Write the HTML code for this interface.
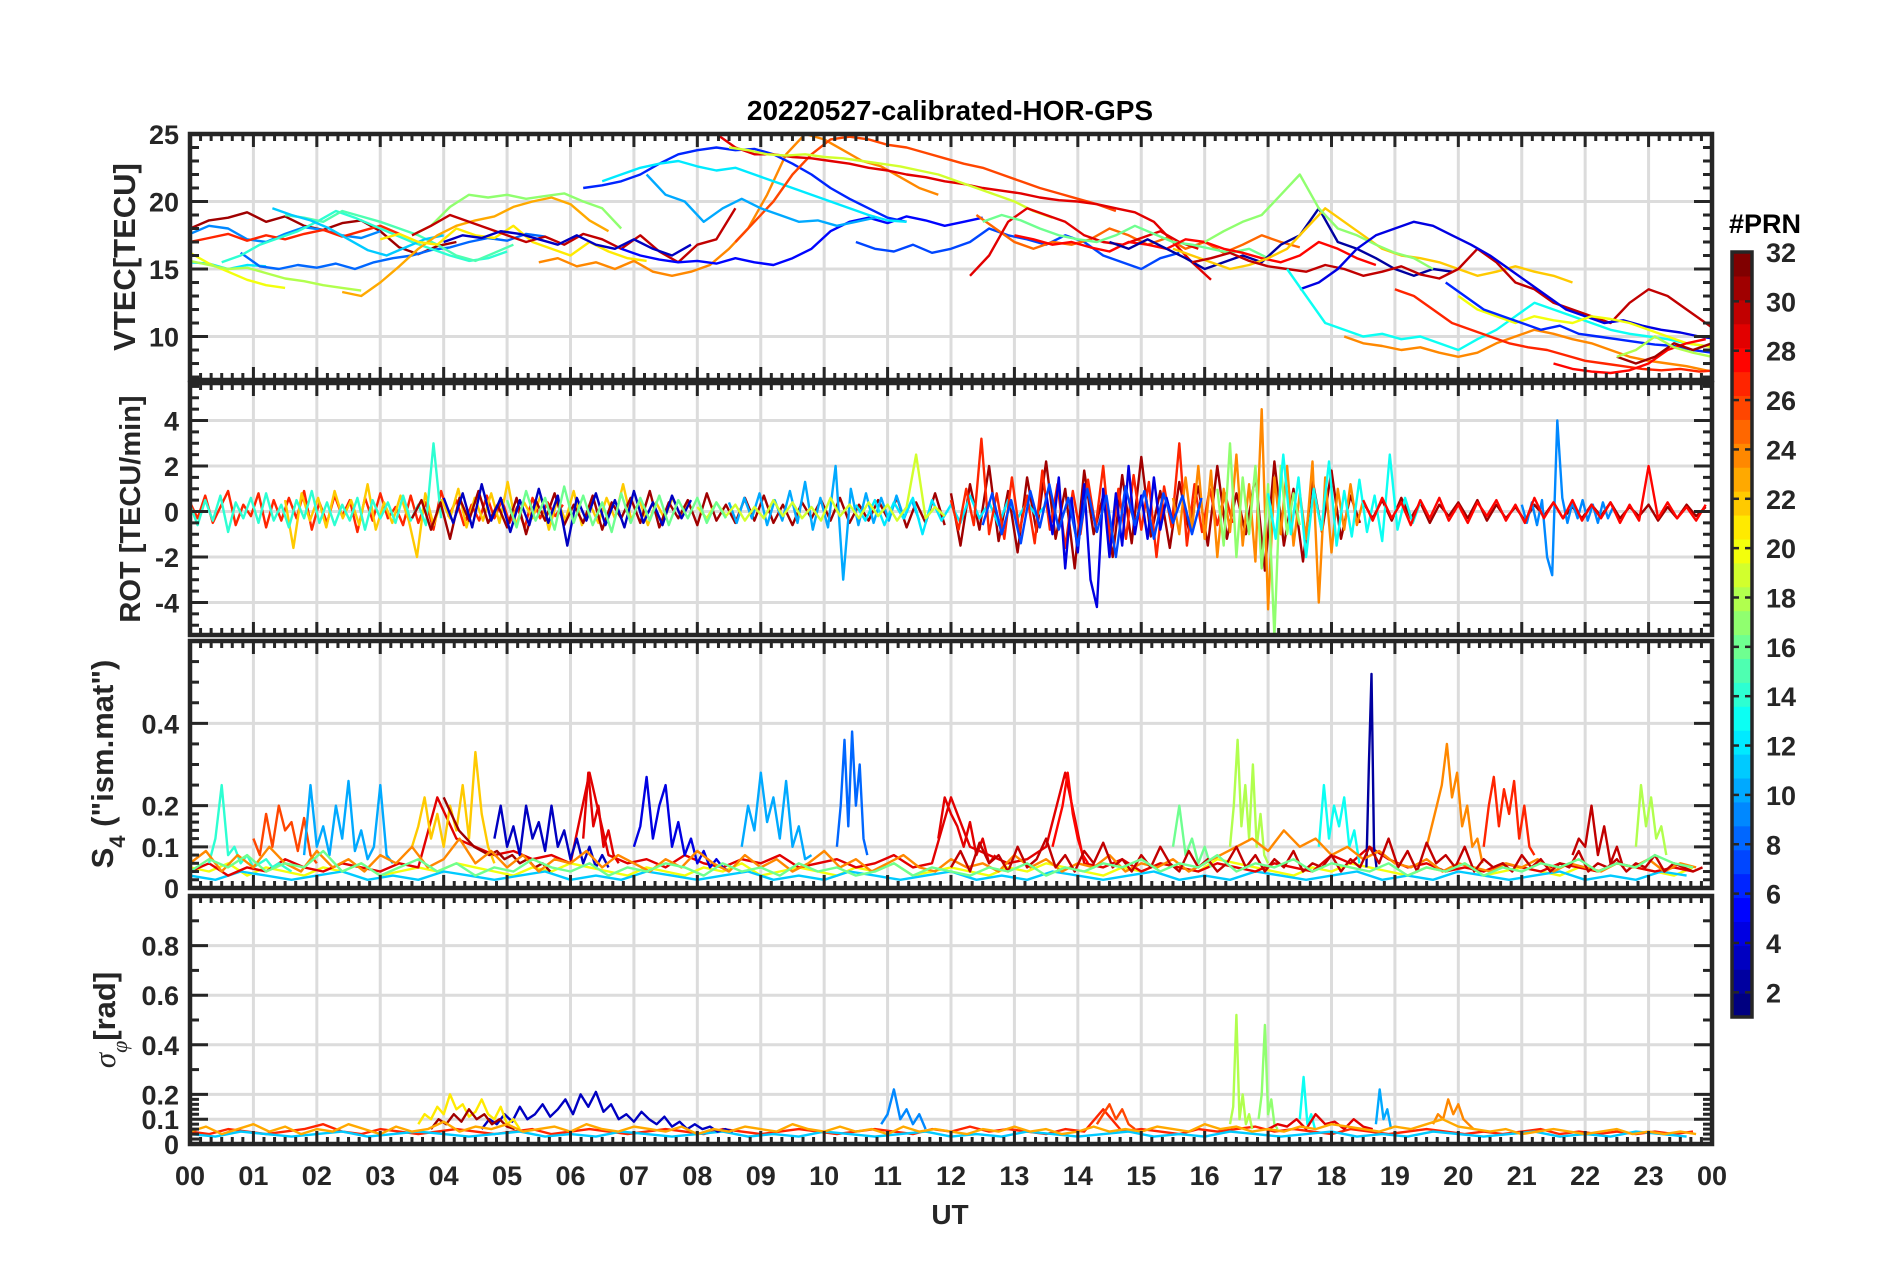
<!DOCTYPE html>
<html><head><meta charset="utf-8"><title>20220527-calibrated-HOR-GPS</title>
<style>
html,body{margin:0;padding:0;background:#fff;}
svg{display:block;font-family:"Liberation Sans",Arial,sans-serif;font-weight:bold;}
</style></head>
<body>
<svg id="fig" width="1902" height="1272" viewBox="0 0 1902 1272" xmlns="http://www.w3.org/2000/svg">
<text x="950" y="120" text-anchor="middle" font-size="28" fill="#000">20220527-calibrated-HOR-GPS</text>
<text x="950" y="1224" text-anchor="middle" font-size="28" fill="#262626">UT</text>
<text transform="translate(135,257) rotate(-90)" text-anchor="middle" font-size="31" fill="#262626">VTEC[TECU]</text>
<text transform="translate(140,509) rotate(-90)" text-anchor="middle" font-size="29" fill="#262626">ROT [TECU/min]</text>
<text transform="translate(113,764) rotate(-90)" text-anchor="middle" font-size="31" fill="#262626">S<tspan font-size="22" dy="12">4</tspan><tspan dy="-12"> ("ism.mat")</tspan></text>
<text transform="translate(115,1020) rotate(-90)" text-anchor="middle" font-size="31" fill="#262626"><tspan font-family="Liberation Serif,serif" font-style="italic" font-weight="normal">σ</tspan><tspan font-family="Liberation Serif,serif" font-style="italic" font-weight="normal" font-size="22" dy="12">φ</tspan><tspan dy="-12">[rad]</tspan></text>
<text x="1765" y="233" text-anchor="middle" font-size="27" fill="#000">#PRN</text>
<g id="layer"></g>
</svg>
<script>
// ---------- DATA ----------
const hourTicks = ["00","01","02","03","04","05","06","07","08","09","10","11","12","13","14","15","16","17","18","19","20","21","22","23","00"];
const cbTicks = [2,4,6,8,10,12,14,16,18,20,22,24,26,28,30,32];

const vtecPrn = [31,9,27,12,20,18,8,14,15,11,23,17,21,30,3,24,5,6,12,26,29,10,19,7,25,29,16,28,2,22,17,30,4,13,24,27,20,6,28,31,18];
const vtecT0 = [0,0,0,0,0,0,0.8,0.5,1.5,1.3,2.4,3.5,3.0,3.5,4.0,5.5,6.8,6.2,6.5,8.6,8.3,7.2,8.5,10.5,12.4,12.3,12.5,13,14.5,15.5,16,15.8,17.5,17.3,18.2,19,20,19.8,21.5,22.5,22.5];
const vtecVals = [
[18,18.6,18.8,19.2,18.5,18.9,18.2,17.9,18.4,18.6,17.8,16.6,16.1,16.7,17.0],
[17.6,18.2,18.0,17.2,17.0,17.6,18.1,17.9,17.5,17.3,17.8],
[17.0,17.3,17.6,17.1,17.5,17.2,17.6,17.9,17.4,17.8,18.2,17.6],
[15.5,15.4,15.0,15.3,15.2],
[16.2,15.4,14.8,14.2,13.8,13.6],
[15.6,15.3,15.0,15.1,14.7,14.3,14.1,13.8,13.6,13.4],
[16.2,15.2,15.0,15.3,15.1,15.4,15.0,15.5,15.8,16.0,16.4,16.6,17.0,17.3,17.1,17.6,17.4],
[15.5,16.0,16.8,17.3,17.8,18.5,19.3,18.8,18.2,17.6,17.0,16.5,16.0,15.6,15.8,16.3],
[19.0,18.8,18.5,19.3,18.9,18.5,18.0,17.5,16.8,16.0,15.6,16.2,16.8],
[19.5,19.0,18.6,18.0,17.2,16.4,16.0,16.6,17.2,17.5],
[13.3,13.0,14.0,15.2,16.5,17.5,18.2,18.6,18.9,19.6,20.0,20.3,19.8,18.6,17.8],
[17.5,18.2,19.6,20.5,20.3,20.5,20.2,20.4,20.6,20.0,19.5,18.0],
[17.2,17.6,17.0,16.8,18.0,17.5,17.3,18.2,17.0,16.5,16.0,17.0,16.3,15.8,15.6],
[17.5,18.2,19.0,18.5,18.0,17.5,17.0,17.4,16.8,17.6,17.2,16.5,17.5,16.3,15.5,16.8,17.2,19.5],
[17.0,17.5,17.3,17.8,17.6,17.2,16.8,17.5,16.8,16.5,17.2,16.5,16.0,16.8],
[15.5,15.8,15.2,15.5,15.0,15.6,14.8,14.5,14.8,15.3,16.5,18.0,20.5,23.5,25.0,24.6,23.8,23.0,22.6,21.8,21.0,20.5],
[16.5,16.0,15.7,15.5,15.6,15.4,15.8,15.5,15.3,15.8,16.5,17.8,18.5,18.8,18.4,18.9,18.6,18.2,18.5,18.8],
[21.0,21.2,21.5,22.0,22.8,23.5,23.8,24.0,23.8,23.9,23.5,22.8,22.0,21.0,20.2,19.5,18.8,18.5],
[21.5,22.0,22.5,22.8,23.0,22.6,22.3,22.5,22.0,21.5,21.0,20.5,20.0,19.5,19.0,18.6,18.5],
[17.0,18.5,20.0,22.0,23.5,24.6,24.8,24.6,24.2,24.0,23.6,23.2,22.8,22.5,22.0,21.5,21.0,20.6,20.2,19.8,19.3],
[25.0,24.0,23.5,23.5,23.3,23.2,23.0,22.8,22.5,22.3,22.0,21.8,21.5,21.3,21.0,20.8,20.6,20.3,20.1,20.0,19.8,19.5,19.2,18.5,17.0,15.5,14.2],
[22.0,20.5,20.0,18.5,19.5,20.2,19.5,19.0,18.5,18.6,18.2,18.5,18.8],
[24.0,23.8,23.5,23.4,23.5,23.3,23.2,23.0,22.8,22.6,22.3,22.0,21.5,21.0,20.5,20.0,19.3,18.8],
[17.0,16.5,16.3,16.8,16.2,16.5,17.0,18.0,17.5,17.2,16.8,17.5,17.0,16.0,15.5,15.0,15.8,16.2],
[19.0,18.0,17.0,16.5,17.0,16.8,17.2,18.0,17.5,16.8,17.3,16.5,17.0,16.2,16.8,17.5,17.0,16.6],
[14.5,16.0,18.5,19.5,19.0,18.5,17.5,17.0,16.8,17.3,17.8,17.0,16.5],
[18.5,19.0,18.6,18.0,17.5,17.2,17.0,17.5,18.2,17.6,17.0,16.8,16.5,16.2,16.5,15.8],
[17.5,17.2,16.8,17.0,16.6,16.3,17.0,16.8,16.5,17.2,17.0,16.5,16.2,15.8,15.5,16.0,17.0,16.5,15.8,15.3],
[17.0,16.5,17.2,16.5,15.8,15.0,15.5,16.0,15.5,16.8,17.5,19.5,17.0,16.5,15.8,15.0,14.5,15.0,14.8],
[16.5,16.0,15.5,15.0,15.3,15.8,16.5,18.0,19.5,18.5,17.5,16.5,16.0,15.8,15.5,15.0,14.5,14.8,15.2,14.8,14.5,14.0],
[17.0,17.8,18.5,19.0,20.5,22.0,19.5,18.0,17.5,16.8,16.2,15.8,15.0],
[15.5,15.8,16.2,15.6,15.2,15.0,14.8,15.3,15.0,14.5,14.8,15.2,14.6,14.3,15.0,16.5,15.5,14.0,13.5,12.5,12.0,11.5,11.0,12.5,13.5,13.0,12.0,11.0,10.0,9.5,9.0],
[13.5,14.0,15.0,16.5,17.5,18.0,18.5,18.2,17.5,16.8,16.0,15.0,14.0,13.0,12.0,11.5,11.0,11.2,10.8,10.5,10.3,10.0,9.8,9.6,9.5,9.7,9.3,9.8],
[15.0,13.0,11.0,10.5,10.0,10.2,9.8,10.0,9.5,9.0,9.8,10.5,11.5,12.5,12.0,11.5,11.0,10.5,10.2,10.0,9.8,9.5,9.3,9.0,8.8,8.5,8.3,8.0,7.8,8.5,8.2,7.6],
[10.0,9.5,9.3,9.0,9.2,8.8,8.5,8.8,9.5,10.0,10.5,10.2,9.8,9.5,9.0,8.5,8.2,8.0,7.8,7.5,7.3],
[13.5,13.0,12.0,11.0,10.5,10.0,9.5,9.2,9.0,8.6,8.2,8.0,7.8,7.6,7.5,7.6,7.4,7.5,7.8,8.0,8.3],
[13.0,12.0,11.5,11.0,11.5,11.2,11.0,11.5,11.3,11.0,10.5,10.0,9.5,9.3,9.0,8.8,9.5,10.5,10.0,9.5],
[14.0,13.0,12.0,11.5,11.0,10.5,10.8,10.2,10.0,9.8,9.6,9.4,9.3,9.0,8.8],
[8.0,7.6,7.4,7.3,7.5,8.0,9.0,9.5,9.8],
[8.5,8.0,8.5,9.5,9.0,9.5],
[8.5,9.0,10.0,9.2,8.8,8.5]
];
const vtecDt = 0.3;

const rotPrn = [27,22,14,31,31,31,3,10,12,27,4,24,17,13,9,28,19,16,7];
const rotT0 = [0,1.5,0,3.5,12,18.5,4,8.5,10.5,12,13.5,15.5,16.2,17,21,18.5,8,5,12.5];
const rotDt = [0.12,0.13,0.12,0.15,0.15,0.15,0.15,0.12,0.15,0.12,0.1,0.1,0.1,0.12,0.08,0.15,0.15,0.15,0.15];
const rotVals = [
[0.4,-0.3,0.7,-0.5,0.2,0.9,-0.6,0.3,-0.2,0.8,-0.7,0.5,-0.4,0.6,-0.3,0.9,-0.8,0.4,-0.5,0.7,-0.2,0.5,-0.9,0.6,-0.4,0.8,-0.3,0.2,-0.6,0.7,-0.5,0.4,-0.8,0.9,-0.2,0.5,-0.6,0.3,-0.4,0.7,-0.3,0.5,-0.5,0.2,-0.7,0.6,-0.3,0.4,-0.2,0.3],
[0.5,-1.6,0.8,-0.4,0.6,-0.7,0.9,-0.3,0.5,-0.6,1.2,-0.8,0.4,-0.5,0.7,-0.4,-2.0,0.8,-0.6,0.5,-0.3,1.0,-0.7,0.6,-0.4,0.8,-0.5,1.3,-0.6,0.4,-0.3,0.7,-0.8,0.5,-0.4,0.9,-0.6,0.3,-0.5,0.6,-0.3,1.2,-0.4,0.5,-0.6,0.4,-0.3,0.6,-0.2,0.4],
[0.3,-0.6,0.5,-0.4,0.7,-0.9,0.4,-0.3,0.6,-0.5,0.8,-0.4,0.3,-0.7,0.5,-0.3,0.9,-0.5,0.4,-0.6,0.3,-0.4,0.6,-0.8,0.5,-0.3,0.4,-0.5,0.7,-0.4,0.3,-0.6,3.0,-0.3],
[-0.3,0.5,-0.8,0.4,-1.2,0.6,-0.4,0.9,-0.5,0.3,-0.7,0.6,-1.0,0.5,-0.4,0.8,-0.6,0.3,-0.5,0.7,-0.8,0.4,-0.3,0.6,-0.5,0.9,-0.7,0.4,-0.3,0.5,-0.6,0.8,-0.4,0.3,-0.5,0.6,-0.4,0.7,-0.5,0.3,-0.6,0.4,-0.3,0.5,-0.4,0.6,-0.5,0.3,-0.4,0.5,-0.3,0.6,-0.7,0.4,-0.5,0.8,-0.6],
[0.8,-1.5,1.2,-0.8,2.0,-1.3,0.9,-1.8,1.5,-0.9,2.2,-1.2,1.0,-2.5,1.8,-1.0,0.7,-2.0,1.6,-1.4,2.4,-1.1,0.9,-1.6,1.3,-0.8,1.1,-1.5,2.0,-1.2,0.8,-1.0,1.6,-2.6,2.2,-1.5,1.0,-2.2,1.4,-0.9,1.8,-1.2,0.7,-0.5],
[0.4,-0.3,0.5,-0.4,0.6,-0.3,0.4,-0.5,0.3,-0.2,0.4,-0.3,0.5,-0.4,0.3,-0.3,0.2,-0.4,0.3,-0.2,0.4,-0.3,0.2,-0.3,0.3,-0.2,0.4,-0.3,0.2,-0.2,0.3,-0.4,0.2,-0.3,0.3,-0.2,0.2],
[0.6,-0.5,0.8,-0.7,1.2,-0.4,0.6,-0.9,0.5,-0.6,1.0,-0.5,0.7,-1.5,0.6,-0.4,0.8,-0.6,0.5,-0.7,0.9,-0.5,0.4,-0.6,0.7,-0.3,0.5],
[0.4,-0.5,0.6,-0.3,0.8,-0.6,0.5,-0.4,0.9,-0.5,1.3,-0.8,0.6,-0.7,2.0,-3.0,1.0,-0.6,0.8,-0.5,0.6,-0.4,0.7,-0.3,0.5,-0.4],
[0.3,-0.4,0.5,-0.6,0.4,-0.3,0.6,-1.0,0.5,-0.4,0.3,-0.5,0.7,-0.3,0.4,-0.6,0.5,-0.3,0.4,-0.2,0.3],
[0.5,-0.8,1.0,-0.6,3.2,-1.0,0.8,-1.2,1.5,-0.9,0.7,-1.4,1.8,-0.8,1.2,-1.6,0.9,-1.0,1.4,-0.7,2.0,-1.5,1.0,-1.2,1.6,-0.8,1.3,-2.0,1.1,-0.7,3.0,-1.5,1.2,-0.9,1.0,-0.6,0.8,-0.5],
[0.8,-1.0,1.5,-2.5,0.6,-1.8,1.2,-3.0,-4.2,1.0,-2.0,0.8,-1.5,2.0,-1.0,0.7,-1.2,1.5,-0.8,0.6,-0.5],
[0.6,-1.0,1.5,-0.8,2.0,-1.2,1.8,-2.0,1.0,-0.9,2.5,-1.5,1.2,-2.2,4.5,-4.3,1.5,-1.0,2.0,-1.5,0.8,-1.2,2.2,-4.0,1.5,-1.8,1.0,-0.8,1.2,-0.6,0.5],
[1.0,-1.5,3.0,-2.0,1.5,-1.0,2.0,-2.5,1.2,-5.5,2.0,-1.0,0.8,-0.6],
[0.8,-1.2,2.5,-1.0,1.5,-2.0,1.0,-0.8,2.2,-1.5,0.9,-1.1,1.4,-0.9,0.7,-1.3,2.5,-0.8,0.6,-0.5,0.4],
[0.3,-0.5,0.4,-0.6,0.5,-2.0,-2.8,4.0,0.6,-0.5,0.4,-0.3,0.5,-0.4,0.3,-0.5,0.4,-0.3,0.2],
[0.5,-0.4,0.6,-0.3,0.4,-0.6,0.5,-0.3,0.6,-0.4,0.3,-0.5,0.4,-0.2,0.5,-0.4,0.3,-0.5,0.6,-0.3,0.4,-0.3,0.5,-0.4,0.3,-0.3,0.4,-0.5,0.3,-0.4,2.0,-0.3,0.4,-0.3,0.2,-0.4,0.3],
[0.2,-0.3,0.4,-0.2,0.3,-0.4,0.2,-0.3,0.5,-0.2,0.4,-0.3,0.2,-0.4,0.6,-0.2,0.3,-0.3,0.4,-0.2,0.3,-0.4,0.2,2.5,-0.3,0.2,-0.2],
[0.5,-0.7,0.9,-0.4,0.6,-0.8,1.1,-0.5,0.7,-0.6,0.4,-0.9,0.8,-0.5,0.6,-0.4,0.7,-0.6,0.5,-0.3,0.6,-0.5,0.4,-0.3],
[-0.6,0.8,-1.0,0.5,-1.4,0.9,-0.7,1.2,-0.8,0.6,-1.5,1.0,-0.9,0.7,-2.0,1.1,-0.6,0.9,-1.2,0.8,-0.5,0.7,-1.0,0.6]
];

const s4Prn = [20,11,29,14,26,10,22,31,3,29,4,10,8,29,28,16,18,13,2,24,27,18,30,24,30,16];
const s4T0 = [0,0,0,0.3,1.0,1.8,3.5,4.0,4.8,6.2,7.0,8.7,10.2,11.8,13.6,15.5,16.4,17.8,18.55,19.5,20.4,22.8,21.8,0,12,0];
const s4Dt = [0.3,0.4,0.3,0.1,0.1,0.1,0.1,0.12,0.1,0.08,0.1,0.1,0.06,0.1,0.08,0.1,0.06,0.08,0.04,0.08,0.08,0.08,0.1,0.25,0.15,0.3];
const s4Vals = [
[0.05,0.04,0.06,0.03,0.05,0.04,0.03,0.05,0.04,0.06,0.03,0.04,0.05,0.04,0.06,0.05,0.04,0.03,0.05,0.04,0.06,0.05,0.04,0.03,0.05,0.04,0.03,0.05,0.04,0.06,0.03,0.04,0.05,0.04,0.03,0.05,0.04,0.06,0.03,0.04,0.05,0.04,0.03,0.05,0.04,0.06,0.05,0.04,0.03,0.05,0.04,0.06,0.05,0.04,0.07,0.06,0.05,0.04,0.03,0.05,0.04,0.06,0.05,0.04,0.03,0.05,0.04,0.06,0.03,0.04,0.05,0.04,0.03,0.05,0.04,0.06,0.05,0.04,0.03,0.05],
[0.03,0.02,0.04,0.03,0.02,0.03,0.04,0.02,0.03,0.02,0.04,0.03,0.02,0.03,0.04,0.02,0.03,0.02,0.04,0.03,0.02,0.03,0.04,0.02,0.03,0.02,0.04,0.03,0.02,0.03,0.04,0.02,0.03,0.02,0.04,0.03,0.02,0.03,0.04,0.02,0.03,0.02,0.04,0.03,0.02,0.03,0.04,0.02,0.03,0.02,0.04,0.03,0.02,0.03,0.04,0.02,0.03,0.02,0.04,0.03],
[0.04,0.06,0.03,0.05,0.04,0.07,0.05,0.04,0.06,0.05,0.04,0.06,0.05,0.22,0.12,0.1,0.08,0.09,0.07,0.08,0.06,0.28,0.08,0.06,0.07,0.05,0.08,0.06,0.05,0.07,0.06,0.08,0.05,0.06,0.07,0.05,0.06,0.08,0.05,0.06,0.22,0.1,0.08,0.06,0.07,0.1,0.28,0.06,0.05,0.07,0.04,0.06,0.05,0.04,0.06,0.05,0.04,0.06,0.05,0.04,0.08,0.06,0.1,0.07,0.05,0.06,0.04,0.05,0.04,0.06,0.05,0.04,0.06,0.05,0.04,0.06,0.05,0.04,0.05,0.04],
[0.06,0.12,0.25,0.08,0.1,0.06,0.08,0.05,0.06,0.07,0.05,0.06,0.05,0.04],
[0.12,0.08,0.18,0.1,0.2,0.14,0.16,0.09,0.17,0.08,0.06],
[0.08,0.25,0.1,0.15,0.08,0.2,0.12,0.26,0.09,0.14,0.07,0.1,0.25,0.08,0.06],
[0.1,0.15,0.22,0.12,0.18,0.1,0.2,0.14,0.25,0.12,0.33,0.18,0.1,0.06],
[0.22,0.18,0.14,0.12,0.1,0.09,0.08,0.09,0.07,0.08,0.06,0.07,0.05,0.06,0.04],
[0.12,0.2,0.1,0.15,0.08,0.2,0.12,0.16,0.09,0.2,0.1,0.14,0.07,0.12,0.06,0.1,0.05,0.08,0.05],
[0.12,0.28,0.15,0.2,0.1,0.14,0.08,0.06],
[0.1,0.15,0.27,0.12,0.2,0.25,0.1,0.16,0.08,0.12,0.06,0.09,0.05,0.07,0.05,0.04],
[0.1,0.2,0.14,0.28,0.16,0.22,0.12,0.26,0.1,0.15,0.07,0.08],
[0.1,0.2,0.36,0.15,0.38,0.2,0.3,0.12,0.08],
[0.12,0.22,0.18,0.15,0.1,0.16,0.08,0.12,0.06,0.08],
[0.1,0.15,0.2,0.28,0.18,0.12,0.08,0.06],
[0.1,0.2,0.08,0.12,0.06,0.1,0.05],
[0.1,0.2,0.36,0.15,0.25,0.12,0.3,0.1,0.18,0.08,0.06],
[0.1,0.25,0.12,0.2,0.15,0.22,0.1,0.14,0.06],
[0.05,0.3,0.52,0.1,0.05],
[0.1,0.15,0.2,0.25,0.35,0.22,0.28,0.15,0.2,0.1,0.12,0.06],
[0.1,0.2,0.27,0.15,0.24,0.18,0.26,0.12,0.2,0.1,0.08],
[0.1,0.25,0.15,0.22,0.12,0.15,0.08],
[0.08,0.12,0.1,0.2,0.08,0.15,0.06,0.1,0.05],
[0.06,0.09,0.04,0.08,0.05,0.1,0.06,0.04,0.09,0.05,0.07,0.04,0.08,0.06,0.1,0.05,0.07,0.12,0.06,0.09,0.05,0.08,0.04,0.07,0.06,0.09,0.05,0.08,0.06,0.04,0.07,0.05,0.09,0.06,0.04,0.08,0.05,0.07,0.04,0.06,0.09,0.05,0.07,0.04,0.06,0.08,0.05,0.04,0.07,0.05,0.06,0.04,0.08,0.05,0.07,0.04,0.06,0.05,0.08,0.04,0.06,0.05,0.07,0.04,0.06,0.08,0.1,0.12,0.09,0.14,0.1,0.12,0.08,0.1,0.07,0.09,0.06,0.05,0.07,0.04,0.06,0.05,0.04,0.06,0.05,0.07,0.04,0.06,0.05,0.04,0.06,0.05,0.07,0.04,0.06,0.05],
[0.05,0.09,0.04,0.11,0.06,0.08,0.04,0.1,0.05,0.07,0.12,0.05,0.08,0.04,0.09,0.06,0.11,0.05,0.07,0.04,0.08,0.05,0.1,0.06,0.04,0.09,0.05,0.07,0.04,0.06,0.1,0.05,0.08,0.04,0.07,0.05,0.09,0.04,0.06,0.05,0.08,0.04,0.07,0.05,0.1,0.06,0.12,0.05,0.09,0.04,0.11,0.06,0.08,0.05,0.1,0.04,0.07,0.05,0.06,0.04,0.08,0.05,0.07,0.04,0.06,0.05,0.09,0.04,0.06,0.05,0.07,0.04,0.06,0.05,0.08,0.04,0.06,0.05,0.04,0.05],
[0.04,0.07,0.05,0.08,0.04,0.06,0.05,0.09,0.04,0.06,0.03,0.05,0.07,0.04,0.06,0.03,0.05,0.04,0.07,0.05,0.04,0.06,0.03,0.05,0.04,0.06,0.05,0.03,0.06,0.04,0.05,0.03,0.06,0.04,0.05,0.03,0.04,0.06,0.03,0.05,0.04,0.03,0.05,0.04,0.06,0.03,0.05,0.04,0.06,0.05,0.07,0.04,0.06,0.05,0.08,0.04,0.06,0.05,0.07,0.04,0.06,0.05,0.04,0.06,0.03,0.05,0.04,0.06,0.03,0.05,0.04,0.06,0.05,0.07,0.04,0.06,0.05,0.08,0.06,0.05]
];

const sigPrn = [27,11,3,21,31,9,18,17,13,10,24,29,26,23];
const sigT0 = [0,0,4.6,3.6,3.8,10.9,16.4,16.85,17.5,18.7,19.6,17.0,14.3,0];
const sigDt = [0.3,0.4,0.12,0.1,0.12,0.1,0.05,0.05,0.06,0.06,0.08,0.15,0.1,0.25];
const sigVals = [
[0.05,0.04,0.06,0.05,0.04,0.05,0.06,0.08,0.05,0.04,0.06,0.05,0.04,0.05,0.06,0.05,0.04,0.05,0.06,0.04,0.05,0.06,0.05,0.04,0.05,0.06,0.05,0.04,0.06,0.05,0.04,0.05,0.06,0.05,0.04,0.05,0.06,0.05,0.04,0.06,0.05,0.07,0.05,0.06,0.05,0.04,0.06,0.05,0.14,0.05,0.06,0.05,0.04,0.06,0.05,0.06,0.07,0.05,0.06,0.05,0.04,0.06,0.05,0.04,0.05,0.06,0.05,0.04,0.05,0.04,0.05,0.06,0.04,0.05,0.04,0.05,0.04,0.05,0.04,0.05],
[0.04,0.03,0.05,0.04,0.03,0.04,0.05,0.03,0.04,0.05,0.04,0.03,0.04,0.05,0.03,0.04,0.03,0.05,0.04,0.03,0.04,0.05,0.03,0.04,0.03,0.05,0.04,0.03,0.04,0.05,0.03,0.04,0.03,0.05,0.04,0.03,0.04,0.05,0.03,0.04,0.03,0.05,0.04,0.03,0.04,0.05,0.03,0.04,0.03,0.05,0.04,0.03,0.04,0.05,0.03,0.04,0.03,0.05,0.04,0.03],
[0.06,0.1,0.08,0.12,0.09,0.15,0.1,0.12,0.16,0.11,0.14,0.18,0.12,0.2,0.15,0.21,0.13,0.16,0.1,0.12,0.09,0.13,0.1,0.08,0.11,0.07,0.09,0.06,0.08,0.06,0.07,0.05,0.06,0.05],
[0.08,0.12,0.1,0.15,0.12,0.2,0.14,0.16,0.11,0.13,0.18,0.12,0.1,0.15,0.08,0.1,0.06],
[0.06,0.1,0.08,0.12,0.09,0.14,0.1,0.12,0.08,0.1,0.07,0.06],
[0.08,0.12,0.22,0.1,0.14,0.08,0.12,0.06],
[0.08,0.15,0.52,0.1,0.2,0.08,0.12,0.06],
[0.1,0.2,0.48,0.12,0.18,0.08,0.06],
[0.1,0.27,0.08,0.12,0.06],
[0.08,0.22,0.1,0.14,0.06],
[0.08,0.12,0.1,0.18,0.12,0.16,0.1,0.08,0.06],
[0.06,0.08,0.07,0.1,0.06,0.12,0.08,0.09,0.06,0.1,0.07,0.06],
[0.08,0.12,0.16,0.1,0.14,0.08,0.06],
[0.05,0.07,0.04,0.06,0.08,0.05,0.07,0.04,0.06,0.05,0.08,0.06,0.04,0.07,0.05,0.06,0.09,0.05,0.07,0.06,0.08,0.05,0.06,0.07,0.05,0.08,0.06,0.05,0.07,0.06,0.05,0.07,0.04,0.06,0.05,0.07,0.06,0.05,0.08,0.06,0.05,0.07,0.05,0.06,0.04,0.07,0.05,0.06,0.05,0.04,0.06,0.05,0.07,0.05,0.06,0.04,0.05,0.07,0.05,0.06,0.05,0.07,0.06,0.05,0.08,0.06,0.07,0.05,0.06,0.05,0.07,0.06,0.08,0.07,0.06,0.05,0.07,0.06,0.08,0.1,0.07,0.06,0.05,0.06,0.04,0.05,0.06,0.05,0.04,0.05,0.06,0.04,0.05,0.04,0.05,0.04]
];

// ---------- LAYOUT ----------
const NS = "http://www.w3.org/2000/svg";
const XL = 190, XR = 1712;
const panels = [
 {key:"vtec", top:134, bot:380, ymin:6.78, ymax:25, ticks:[10,15,20,25], labels:["10","15","20","25"], minor:1, minorLow:null},
 {key:"rot", top:383, bot:635, ymin:-5.43, ymax:5.65, ticks:[-4,-2,0,2,4], labels:["-4","-2","0","2","4"], minor:0.5, minorLow:null},
 {key:"s4", top:641, bot:888, ymin:0, ymax:0.6, ticks:[0,0.1,0.2,0.4], labels:["0","0.1","0.2","0.4"], minor:0.05, minorLow:0.02},
 {key:"sigma", top:896, bot:1144, ymin:0, ymax:1, ticks:[0,0.1,0.2,0.4,0.6,0.8], labels:["0","0.1","0.2","0.4","0.6","0.8"], minor:0.1, minorLow:0.02}
];
function xScale(h){ return XL + (XR-XL)*h/24; }
function yScale(p,v){ return p.bot - (p.bot-p.top)*(v-p.ymin)/(p.ymax-p.ymin); }
function jet(prn){
  const x = (prn-1)/31;
  const c = t => Math.round(255*Math.max(0,Math.min(1,t)));
  return `rgb(${c(1.5-Math.abs(4*x-3))},${c(1.5-Math.abs(4*x-2))},${c(1.5-Math.abs(4*x-1))})`;
}
function mk(tag, attrs, parent){
  const el = document.createElementNS(NS, tag);
  for (const k in attrs) el.setAttribute(k, attrs[k]);
  parent.appendChild(el);
  return el;
}
const layer = document.getElementById("layer");
const defs = mk("defs", {}, layer);
const AX = "#262626";

const seriesSets = {
 vtec: {prn:vtecPrn, t0:vtecT0, dt:vtecPrn.map(()=>vtecDt), vals:vtecVals},
 rot: {prn:rotPrn, t0:rotT0, dt:rotDt, vals:rotVals},
 s4: {prn:s4Prn, t0:s4T0, dt:s4Dt, vals:s4Vals},
 sigma: {prn:sigPrn, t0:sigT0, dt:sigDt, vals:sigVals}
};

panels.forEach((p, pi) => {
  const g = mk("g", {}, layer);
  
  
  const cp = mk("clipPath", {id:"clip"+pi}, defs);
  mk("rect", {x:XL, y:p.top, width:XR-XL, height:p.bot-p.top}, cp);
  for (let h=1; h<24; h++){
    const gl = mk("line", {x1:xScale(h), x2:xScale(h), y1:p.top, y2:p.bot, stroke:"#dcdcdc", "stroke-width":3}, g);
    
    
  }
  p.ticks.forEach(v => {
    const gl = mk("line", {x1:XL, x2:XR, y1:yScale(p,v), y2:yScale(p,v), stroke:"#dcdcdc", "stroke-width":3}, g);
    
    
  });
  const s = seriesSets[p.key];
  const sg = mk("g", {"clip-path":`url(#clip${pi})`}, g);
  s.vals.forEach((arr, i) => {
    const d = arr.map((v,j) => (j?"L":"M") + xScale(s.t0[i] + j*s.dt[i]).toFixed(1) + "," + yScale(p,v).toFixed(1)).join("");
    const path = mk("path", {d:d, fill:"none", stroke:jet(s.prn[i]), "stroke-width":2.4, "stroke-linejoin":"round"}, sg);
    
    
  });
  const tk = mk("g", {stroke:AX, "stroke-width":3}, g);
  for (let m=0; m<=144; m++){
    const x = xScale(m/6);
    const L = (m%6===0) ? 13 : 7;
    mk("line", {x1:x, x2:x, y1:p.top, y2:p.top+L}, tk);
    mk("line", {x1:x, x2:x, y1:p.bot, y2:p.bot-L}, tk);
  }
  const yv = [];
  if (p.minorLow){
    for (let v=p.ymin; v<0.2-1e-9; v+=p.minorLow) yv.push(v);
    for (let v=0.2; v<=p.ymax+1e-9; v+=p.minor) yv.push(v);
  } else {
    for (let v=Math.ceil(p.ymin/p.minor)*p.minor; v<=p.ymax+1e-9; v+=p.minor) yv.push(v);
  }
  yv.forEach(v => {
    const major = p.ticks.some(t => Math.abs(t-v)<1e-6);
    const L = major ? 18 : 9;
    const y = yScale(p,v);
    mk("line", {x1:XL, x2:XL+L, y1:y, y2:y}, tk);
    mk("line", {x1:XR, x2:XR-L, y1:y, y2:y}, tk);
  });
  const box = mk("rect", {x:XL, y:p.top, width:XR-XL, height:p.bot-p.top, fill:"none", stroke:AX, "stroke-width":4.5}, g);
  
  
  p.ticks.forEach((v,i) => {
    const t = mk("text", {x:179, y:yScale(p,v)+10, "text-anchor":"end", "font-size":27, fill:AX}, g);
    t.textContent = p.labels[i];
    
    
  });
});

hourTicks.forEach((lab, h) => {
  const t = mk("text", {x:xScale(h), y:1185, "text-anchor":"middle", "font-size":27, fill:AX}, layer);
  t.textContent = lab;
  
  
});

const CB = {x:1732, w:20, top:252, bot:1017, vmin:1, vmax:32};
function cbY(v){ return CB.bot - (CB.bot-CB.top)*(v-CB.vmin)/(CB.vmax-CB.vmin); }
const cbg = mk("g", {}, layer);


const band = (CB.bot-CB.top)/32;
for (let k=1; k<=32; k++){
  mk("rect", {x:CB.x, y:CB.bot - k*band, width:CB.w, height:band+0.6, fill:jet(k)}, cbg);
}
cbTicks.forEach(v => {
  const y = cbY(v);
  mk("line", {x1:CB.x, x2:CB.x+7, y1:y, y2:y, stroke:AX, "stroke-width":2.5}, cbg);
  mk("line", {x1:CB.x+CB.w, x2:CB.x+CB.w-7, y1:y, y2:y, stroke:AX, "stroke-width":2.5}, cbg);
  const t = mk("text", {x:1766, y:y+10, "font-size":27, fill:AX}, cbg);
  t.textContent = String(v);
  
  
});
mk("rect", {x:CB.x, y:CB.top, width:CB.w, height:CB.bot-CB.top, fill:"none", stroke:AX, "stroke-width":3.5}, cbg);
</script>
</body></html>
